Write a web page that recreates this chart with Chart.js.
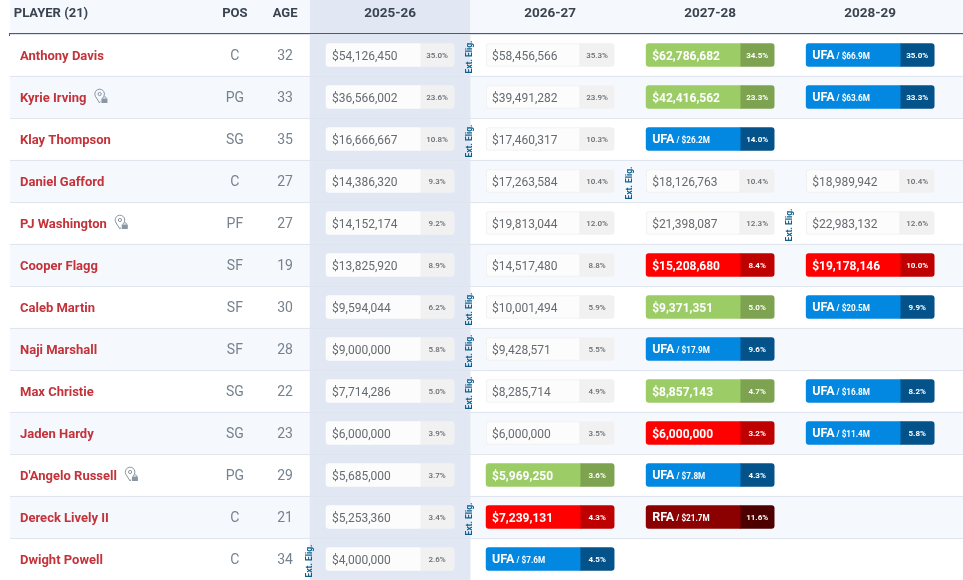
<!DOCTYPE html>
<html>
<head>
<meta charset="utf-8">
<title>Contracts</title>
<script src="https://cdn.jsdelivr.net/npm/chart.js@4"></script>
<style>
html, body { margin: 0; padding: 0; background: #fff; }
canvas { display: block; }
</style>
</head>
<body>
<canvas id="contractsChart" width="963" height="580"></canvas>
<script>
// Table data, one list per column
const players = ['Anthony Davis', 'Kyrie Irving', 'Klay Thompson', 'Daniel Gafford', 'PJ Washington', 'Cooper Flagg', 'Caleb Martin', 'Naji Marshall', 'Max Christie', 'Jaden Hardy', "D'Angelo Russell", 'Dereck Lively II', 'Dwight Powell'];
const positions = ['C', 'PG', 'SG', 'C', 'PF', 'SF', 'SF', 'SF', 'SG', 'SG', 'PG', 'C', 'C'];
const ages = [32, 33, 35, 27, 27, 19, 30, 28, 22, 23, 29, 21, 34];
const seasons = ['2025-26', '2026-27', '2027-28', '2028-29'];
const infoHeaders = ['PLAYER (21)', 'POS', 'AGE'];
const lockedPlayers = ['Kyrie Irving', 'PJ Washington', "D'Angelo Russell"];

const salaries2526 = [54126450, 36566002, 16666667, 14386320, 14152174, 13825920, 9594044, 9000000, 7714286, 6000000, 5685000, 5253360, 4000000];
const capPct2526 = [35.0, 23.6, 10.8, 9.3, 9.2, 8.9, 6.2, 5.8, 5.0, 3.9, 3.7, 3.4, 2.6];
const kinds2526 = ['plain', 'plain', 'plain', 'plain', 'plain', 'plain', 'plain', 'plain', 'plain', 'plain', 'plain', 'plain', 'plain'];

const salaries2627 = [58456566, 39491282, 17460317, 17263584, 19813044, 14517480, 10001494, 9428571, 8285714, 6000000, 5969250, 7239131, 7600000];
const capPct2627 = [35.3, 23.9, 10.3, 10.4, 12.0, 8.8, 5.9, 5.5, 4.9, 3.5, 3.6, 4.3, 4.5];
const kinds2627 = ['plain', 'plain', 'plain', 'plain', 'plain', 'plain', 'plain', 'plain', 'plain', 'plain', 'green', 'red', 'ufa'];

const salaries2728 = [62786682, 42416562, 26200000, 18126763, 21398087, 15208680, 9371351, 17900000, 8857143, 6000000, 7800000, 21700000, null];
const capPct2728 = [34.5, 23.3, 14.0, 10.4, 12.3, 8.4, 5.0, 9.6, 4.7, 3.2, 4.3, 11.6, null];
const kinds2728 = ['green', 'green', 'ufa', 'plain', 'plain', 'red', 'green', 'ufa', 'green', 'red', 'ufa', 'rfa', null];

const salaries2829 = [66900000, 63600000, null, 18989942, 22983132, 19178146, 20500000, null, 16800000, 11400000, null, null, null];
const capPct2829 = [35.0, 33.3, null, 10.4, 12.6, 10.0, 9.9, null, 8.2, 5.8, null, null, null];
const kinds2829 = ['ufa', 'ufa', null, 'plain', 'plain', 'red', 'ufa', null, 'ufa', 'ufa', null, null, null];

// season index where the extension marker sits, per player (null = none)
const extEligibleAt = [1, null, 1, 2, 3, null, 1, 1, 1, null, null, 1, 0];

const salaryLists = [salaries2526, salaries2627, salaries2728, salaries2829];
const pctLists = [capPct2526, capPct2627, capPct2728, capPct2829];
const kindLists = [kinds2526, kinds2627, kinds2728, kinds2829];

// Colours per contract kind
const kindColors = {
    plain: { value: '#fcfcfc', pct: '#f1f1f1', border: '#efefef', text: '#666b70', pctText: '#666b70' },
    green: { value: '#9ccc65', pct: '#7da351', border: '#9ccc65', text: '#ffffff', pctText: '#ffffff' },
    red: { value: '#fe0000', pct: '#bf0000', border: '#fe0000', text: '#ffffff', pctText: '#ffffff' },
    ufa: { value: '#0288e0', pct: '#04528a', border: '#0288e0', text: '#ffffff', pctText: '#ffffff' },
    rfa: { value: '#8b0000', pct: '#4d0000', border: '#8b0000', text: '#ffffff', pctText: '#ffffff' }
};

// x axis is measured in season columns: 0 = left edge of 2025-26, one unit per season
const pillStart = 0.1, pillSplit = 0.6875, pillEnd = 0.9;
const axisMin = -1.875, axisMax = 4.08;
const headerPositions = [-1.619, -0.47, -0.156, 0.5, 1.5, 2.5, 3.5];
const posColumn = -0.47, ageColumn = -0.156;
const headerBg = '#f5f8fc', headerShade = '#e1e8f4', rowAlt = '#f5f8fc', lineColor = '#dfe5ee';

const cells = [];
salaryLists.forEach((list, s) => {
    list.forEach((salary, r) => {
        if (salary === null) return;
        cells.push({ season: s, player: players[r], salary, pct: pctLists[s][r], kind: kindLists[s][r] });
    });
});

function moneyLabel(v) {
    return '$' + v.toLocaleString('en-US');
}

function shortMoney(v) {
    return '$' + (v / 1e6).toFixed(1) + 'M';
}

function font(weight, size) {
    return weight + ' ' + size + 'px Roboto';
}

// Small pin with a padlock shown next to some names
function drawLockIcon(ctx, x, y, bg) {
    ctx.save();
    ctx.strokeStyle = '#8a96a3';
    ctx.lineWidth = 1;
    ctx.beginPath();
    ctx.arc(x + 5.2, y - 2, 4.8, Math.PI * 0.85, Math.PI * 0.15);
    ctx.lineTo(x + 5.2, y + 7);
    ctx.closePath();
    ctx.stroke();
    ctx.beginPath();
    ctx.arc(x + 5.2, y - 2, 1.6, 0, Math.PI * 2);
    ctx.stroke();
    ctx.fillStyle = bg;
    ctx.fillRect(x + 6, y + 0.5, 7.5, 7);
    ctx.fillStyle = '#8a96a3';
    ctx.fillRect(x + 7, y + 2.5, 6, 4.5);
    ctx.beginPath();
    ctx.arc(x + 10, y + 2.5, 1.8, Math.PI, 0);
    ctx.stroke();
    ctx.restore();
}

// Header background and shaded season column behind the axis
const headerPlugin = {
    id: 'headerPlugin',
    beforeDraw(chart) {
        const { ctx, scales: { x }, chartArea } = chart;
        ctx.save();
        ctx.fillStyle = headerBg;
        ctx.fillRect(chartArea.left, 0, chartArea.right - chartArea.left, chartArea.top);
        ctx.fillStyle = headerShade;
        ctx.fillRect(x.getPixelForValue(0), 0, x.getPixelForValue(1) - x.getPixelForValue(0), chartArea.top);
        ctx.restore();
    }
};

// Cell texts, drawn at the positions given by the scales
const cellTextPlugin = {
    id: 'cellTextPlugin',
    afterDraw(chart) {
        const { ctx, scales: { x, y } } = chart;
        ctx.save();
        ctx.textBaseline = 'middle';

        players.forEach((name, r) => {
            const py = y.getPixelForValue(r);
            ctx.font = font(400, 14);
            ctx.fillStyle = '#76828f';
            ctx.textAlign = 'center';
            ctx.fillText(positions[r], x.getPixelForValue(posColumn), py + 1.5);
            ctx.fillText(String(ages[r]), x.getPixelForValue(ageColumn), py + 1.5);

            if (lockedPlayers.includes(name)) {
                ctx.font = font(700, 13);
                drawLockIcon(ctx, x.getPixelForValue(axisMin) + 10 + ctx.measureText(name).width + 8, py - 1, r % 2 ? rowAlt : '#ffffff');
            }

            if (extEligibleAt[r] !== null) {
                ctx.save();
                ctx.translate(x.getPixelForValue(extEligibleAt[r]), py + 2);
                ctx.rotate(-Math.PI / 2);
                ctx.font = font(700, 8.5);
                ctx.fillStyle = '#0b5f8f';
                ctx.textAlign = 'center';
                ctx.fillText('Ext. Elig.', 0, 0);
                ctx.restore();
            }
        });

        cells.forEach(c => {
            const py = y.getPixelForValue(players.indexOf(c.player));
            const colors = kindColors[c.kind];
            const left = x.getPixelForValue(c.season + pillStart) + 6;
            ctx.textAlign = 'left';
            ctx.fillStyle = colors.text;
            if (c.kind === 'ufa' || c.kind === 'rfa') {
                const tag = c.kind.toUpperCase();
                ctx.font = font(700, 12.5);
                ctx.fillText(tag, left, py + 1);
                const w = ctx.measureText(tag).width;
                ctx.font = font(700, 8.2);
                ctx.fillText(' / ' + shortMoney(c.salary), left + w, py + 2);
            } else {
                ctx.font = c.kind === 'plain' ? font(400, 12) : font(700, 12);
                ctx.fillText(moneyLabel(c.salary), left, py + 1.5);
            }
            ctx.textAlign = 'center';
            ctx.font = font(c.kind === 'plain' ? 500 : 700, 8);
            ctx.fillStyle = colors.pctText;
            ctx.fillText(c.pct.toFixed(1) + '%', x.getPixelForValue(c.season + (pillSplit + pillEnd) / 2), py + 1);
        });
        ctx.restore();
    }
};

const barDefaults = { grouped: false, barPercentage: 1, categoryPercentage: 1 };

new Chart(document.getElementById('contractsChart'), {
    type: 'bar',
    data: {
        labels: players,
        datasets: [
            {
                ...barDefaults,
                label: 'Value',
                order: 1,
                barThickness: 23,
                data: cells.map(c => ({ x: [c.season + pillStart, c.season + pillSplit], y: c.player })),
                backgroundColor: cells.map(c => kindColors[c.kind].value),
                borderColor: cells.map(c => kindColors[c.kind].border),
                borderWidth: cells.map(c => (c.kind === 'plain' && c.season > 0) ? 1 : 0),
                borderSkipped: false,
                borderRadius: { topLeft: 3, bottomLeft: 3, topRight: 0, bottomRight: 0 }
            },
            {
                ...barDefaults,
                label: 'Cap %',
                order: 1,
                barThickness: 23,
                data: cells.map(c => ({ x: [c.season + pillSplit, c.season + pillEnd], y: c.player })),
                backgroundColor: cells.map(c => kindColors[c.kind].pct),
                borderColor: cells.map(c => kindColors[c.kind].pct),
                borderWidth: 0,
                borderSkipped: false,
                borderRadius: { topLeft: 0, bottomLeft: 0, topRight: 3, bottomRight: 3 }
            },
            {
                ...barDefaults,
                label: 'Current season',
                order: 2,
                data: players.map(p => ({ x: [0, 1], y: p })),
                backgroundColor: headerShade
            },
            {
                ...barDefaults,
                label: 'Row',
                order: 3,
                data: players.map(p => ({ x: [axisMin, axisMax], y: p })),
                backgroundColor: players.map((p, i) => (i % 2 ? rowAlt : '#ffffff'))
            }
        ]
    },
    options: {
        indexAxis: 'y',
        responsive: false,
        animation: false,
        events: [],
        layout: { padding: { left: 10 } },
        plugins: { legend: { display: false }, tooltip: { enabled: false } },
        scales: {
            x: {
                type: 'linear',
                position: 'top',
                min: axisMin,
                max: axisMax,
                afterFit(scale) { scale.height = 34; },
                afterBuildTicks(scale) { scale.ticks = headerPositions.map(v => ({ value: v })); },
                grid: { display: false },
                border: { display: true, color: '#4f5a6b', width: 3 },
                ticks: {
                    autoSkip: false,
                    maxRotation: 0,
                    padding: 4,
                    color: '#3a4350',
                    font: ctx => ({ family: 'Roboto', weight: 700, size: ctx.index < 3 ? 13 : 13.5 }),
                    callback: (v, i) => [...infoHeaders, ...seasons][i]
                }
            },
            y: {
                type: 'category',
                afterFit(scale) {
                    scale.width = 0;
                    scale.paddingTop = 0;
                    scale.paddingBottom = 0;
                },
                grid: { color: lineColor, offset: true, z: 1, drawTicks: false },
                border: { display: false },
                ticks: {
                    mirror: true,
                    autoSkip: false,
                    padding: 10,
                    labelOffset: 2,
                    z: 2,
                    color: '#c4323a',
                    font: { family: 'Roboto', weight: 700, size: 13 }
                }
            }
        }
    },
    plugins: [headerPlugin, cellTextPlugin]
});
</script>
</body>
</html>
